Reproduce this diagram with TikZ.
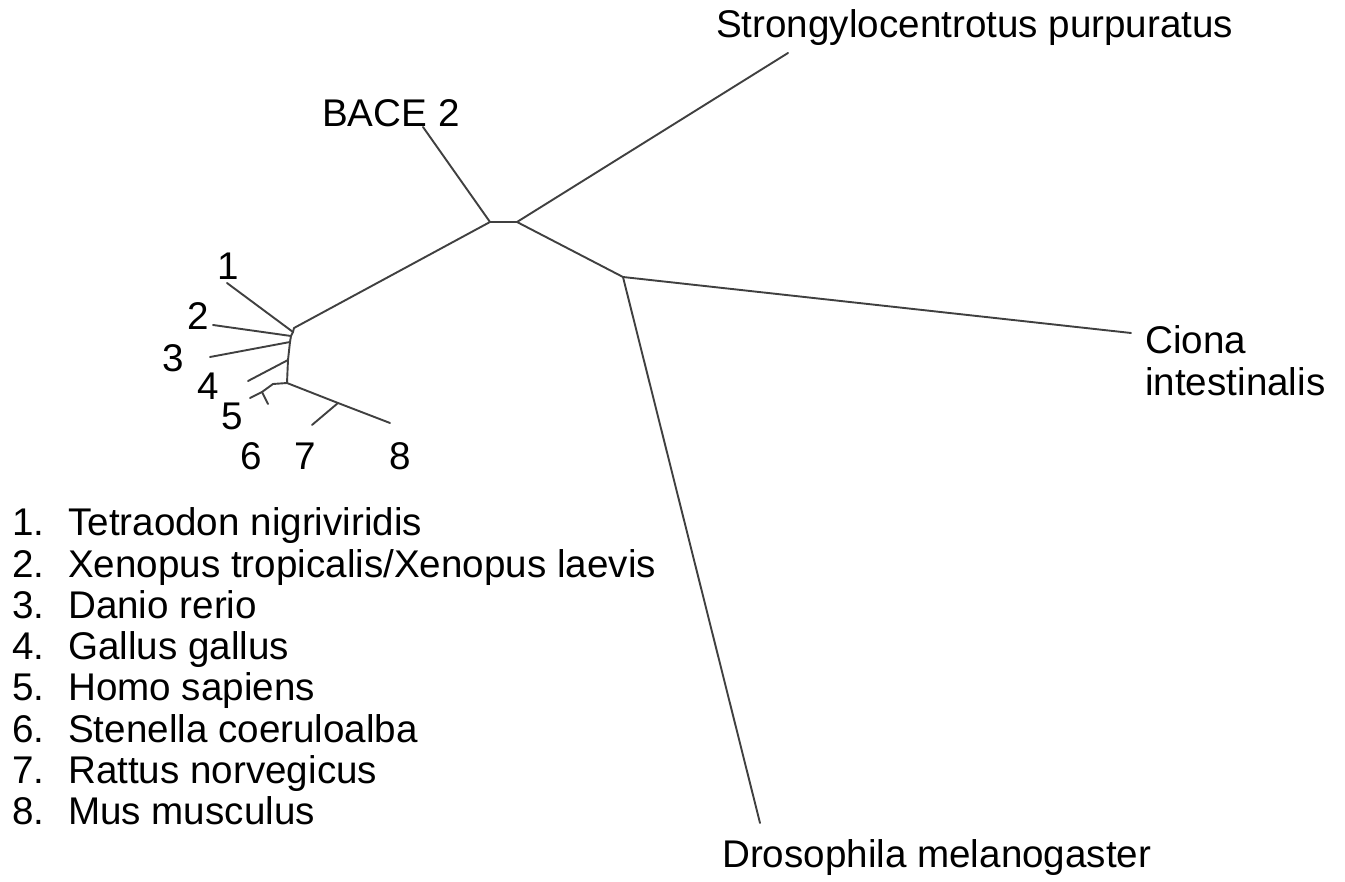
\documentclass[tikz,border=0pt]{standalone}
\usepackage{fontspec}
\setmainfont{Liberation Sans}
\begin{document}
\begin{tikzpicture}[x=1pt,y=-1pt,
  branch/.style={draw=black!75,line width=1.9pt,line join=round,line cap=round},
  lbl/.style={anchor=base west,inner sep=0pt,font=\fontsize{38.6}{40}\selectfont}]
\useasboundingbox[fill=white] (0,0) rectangle (1345,882);
% internal nodes
\coordinate (A) at (490,222);
\coordinate (B) at (517,222);
\coordinate (C) at (623,277);
\coordinate (D) at (294,328);
\coordinate (E) at (287,383);
\coordinate (G) at (273,384);
\coordinate (H) at (262,392);
\coordinate (F) at (338,403);
\coordinate (s1) at (293,332);
\coordinate (s2) at (291,336);
\coordinate (s3) at (290,342);
\coordinate (s4) at (288,360);
% tips
\coordinate (tBACE) at (423,127);
\coordinate (tStr) at (788,53);
\coordinate (tCio) at (1131,333);
\coordinate (tDro) at (760,823);
\coordinate (t1) at (227,283);
\coordinate (t2) at (213,325);
\coordinate (t3) at (210,357);
\coordinate (t4) at (248,381);
\coordinate (t5) at (250,398);
\coordinate (t6) at (268,404);
\coordinate (t7) at (312,425);
\coordinate (t8) at (390,423);
% branches
\draw[branch] (tBACE) -- (A) -- (B) -- (tStr);
\draw[branch] (B) -- (C) -- (tCio);
\draw[branch] (C) -- (tDro);
\draw[branch] (A) -- (D);
\draw[branch] (D) -- (s1) -- (s2) -- (s3) -- (s4) -- (E);
\draw[branch] (t1) -- (s1);
\draw[branch] (t2) -- (s2);
\draw[branch] (t3) -- (s3);
\draw[branch] (t4) -- (s4);
\draw[branch] (E) -- (G) -- (H) -- (t5);
\draw[branch] (H) -- (t6);
\draw[branch] (E) -- (F) -- (t8);
\draw[branch] (F) -- (t7);
% labels
\node[lbl] (lStr) at (716,38) {Strongylocentrotus purpuratus};
\node[lbl] (lBACE) at (322,127) {BACE 2};
\node[lbl] (lCio1) at (1145,354) {Ciona};
\node[lbl] (lCio2) at (1145,396) {intestinalis};
\node[lbl] (lDro) at (722,867) {Drosophila melanogaster};
\node[lbl] (n1) at (217,280) {1};
\node[lbl] (n2) at (187,330) {2};
\node[lbl] (n3) at (162,372) {3};
\node[lbl] (n4) at (197,400) {4};
\node[lbl] (n5) at (221,430) {5};
\node[lbl] (n6) at (240,470) {6};
\node[lbl] (n7) at (294,470) {7};
\node[lbl] (n8) at (389,470) {8};
% legend
\foreach \i/\t [count=\k from 0] in {1/{Tetraodon nigriviridis},2/{Xenopus tropicalis/Xenopus laevis},3/{Danio rerio},4/{Gallus gallus},5/{Homo sapiens},6/{Stenella coeruloalba},7/{Rattus norvegicus},8/{Mus musculus}}{
  \node[lbl] (li\i) at (12,536+41.2*\k) {\i.};
  \node[lbl] (lt\i) at (68,536+41.2*\k) {\t};
}
\end{tikzpicture}
\end{document}
